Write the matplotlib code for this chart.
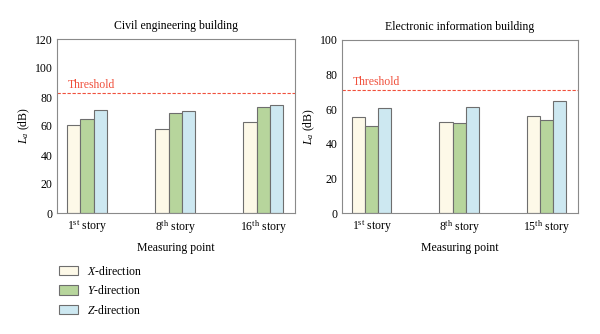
import numpy as np
import matplotlib
matplotlib.use("Agg")
import matplotlib.pyplot as plt
from matplotlib.patches import Patch

plt.rcParams["font.family"] = "Liberation Serif"
plt.rcParams["mathtext.fontset"] = "custom"
plt.rcParams["mathtext.rm"] = "Liberation Serif"
plt.rcParams["mathtext.it"] = "Liberation Serif:italic"

# ── data ──────────────────────────────────────────────────────────────
civil_labels = ["1$^{\\rm st}$ story", "8$^{\\rm th}$ story", "16$^{\\rm th}$ story"]
civil_x = [61, 58, 62.5]
civil_y = [65, 69, 73]
civil_z = [71, 70.5, 74.5]
civil_threshold = 83

elec_labels = ["1$^{\\rm st}$ story", "8$^{\\rm th}$ story", "15$^{\\rm th}$ story"]
elec_x = [55.5, 52.5, 56]
elec_y = [50.5, 52, 54]
elec_z = [60.5, 61.5, 64.5]
elec_threshold = 71

colors = ["#FDF9E8", "#B7D59C", "#CDE8F1"]
edge = "#6E6E6E"
legend_names = ["$X$-direction", "$Y$-direction", "$Z$-direction"]

fig = plt.figure(figsize=(6.0, 3.34), dpi=100)
ax1 = fig.add_axes([57 / 600, 1 - 213 / 334, 238 / 600, 174 / 334])
ax2 = fig.add_axes([342 / 600, 1 - 213 / 334, 236 / 600, 173 / 334])


def draw(ax, labels, xs, ys, zs, thr, ymax, title):
    pos = np.arange(len(labels))
    w = 0.15
    for k, vals in enumerate([xs, ys, zs]):
        ax.bar(pos + (k - 1) * w, vals, w, color=colors[k], edgecolor=edge, linewidth=0.8)
    ax.axhline(thr, color="#F0503C", linestyle="--", linewidth=0.8, dashes=(3, 1.5))
    ax.text(-0.22, thr + 1.2 * ymax / 100, "Threshold", color="#F0503C", fontsize=8.5, va="bottom")
    ax.set_xlim(-0.34, 2.36)
    ax.set_ylim(0, ymax)
    ax.set_yticks(np.arange(0, ymax + 1, 20))
    ax.set_xticks(pos)
    ax.set_xticklabels(labels, fontsize=8.5)
    ax.tick_params(axis="y", labelsize=8.5, length=0, pad=3)
    ax.tick_params(axis="x", length=0, pad=4)
    for s in ax.spines.values():
        s.set_color("#8A8A8A")
        s.set_linewidth(0.8)
    ax.set_xlabel("Measuring point", fontsize=8.5, labelpad=4)
    ax.set_ylabel("$L_a$ (dB)", fontsize=8.5, labelpad=2)
    ax.set_title(title, fontsize=8.5, pad=7)


draw(ax1, civil_labels, civil_x, civil_y, civil_z, civil_threshold, 120,
     "Civil engineering building")
draw(ax2, elec_labels, elec_x, elec_y, elec_z, elec_threshold, 100,
     "Electronic information building")

handles = [Patch(facecolor=c, edgecolor=edge, linewidth=0.8) for c in colors]
fig.legend(handles, legend_names, loc="upper left", bbox_to_anchor=(48 / 600, 1 - 254 / 334),
           frameon=False, fontsize=8.5, handlelength=1.6, handleheight=0.9,
           labelspacing=0.55, handletextpad=0.8)

fig.savefig("out.png", dpi=100, facecolor="white")
